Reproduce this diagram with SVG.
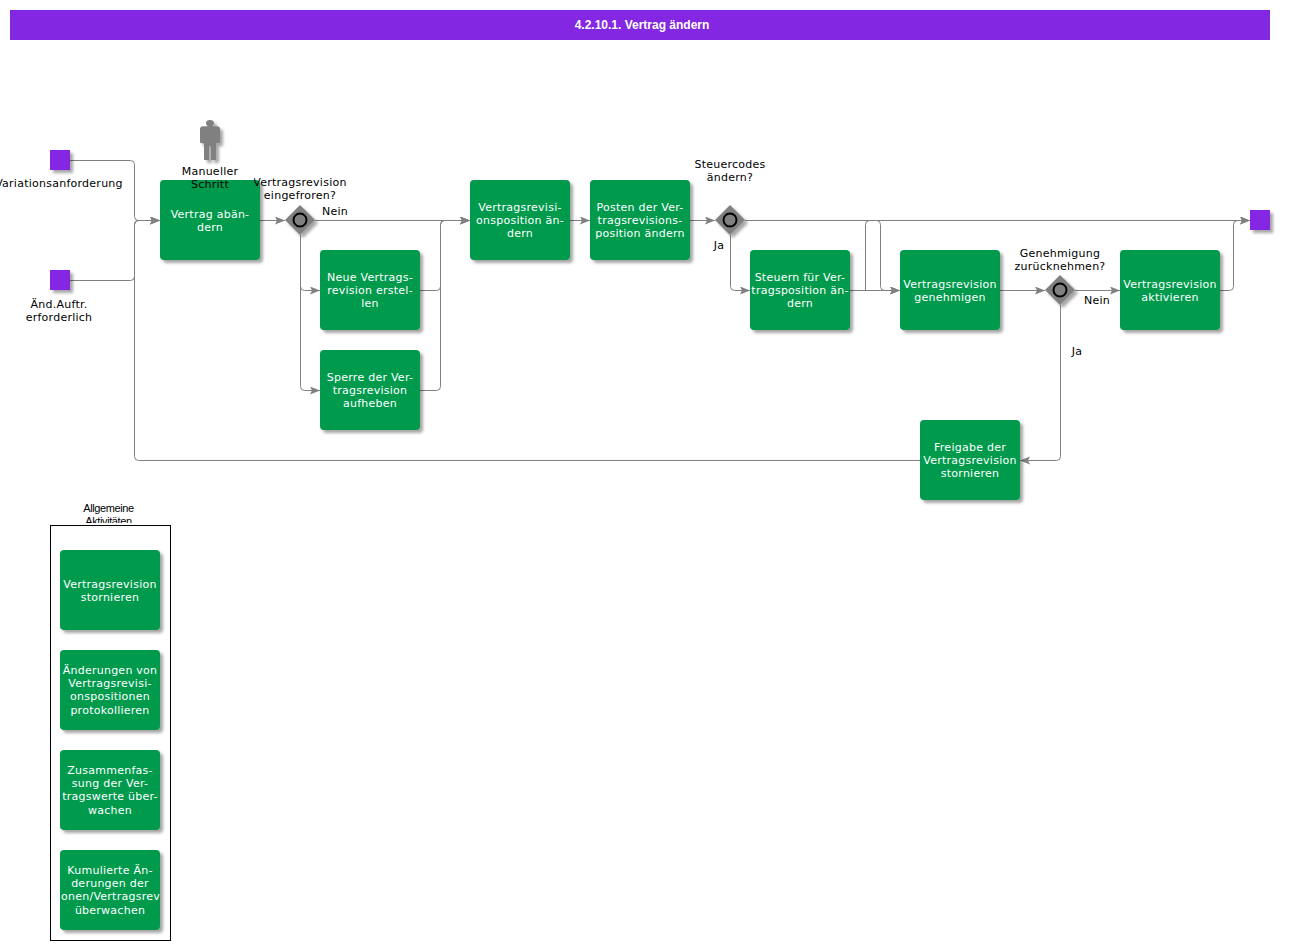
<svg xmlns="http://www.w3.org/2000/svg" width="1296" height="950" viewBox="0 0 1296 950">
<style>
text{font-family:"DejaVu Sans",Verdana,sans-serif;font-size:11px;text-anchor:middle;fill:#000;letter-spacing:.25px}
.w{fill:#fff}
.n rect{fill:#009a4d}
.s{fill:#8427e2}
.c{fill:none;stroke:#808080;stroke-width:1}
.g{fill:#808080}
.a{font-family:"Liberation Sans",Arial,sans-serif;letter-spacing:-.4px}
</style>
<defs>
<filter id="sh" x="-20%" y="-20%" width="150%" height="150%"><feDropShadow dx="3" dy="3" stdDeviation="1.6" flood-color="#000" flood-opacity=".35"/></filter>
<marker id="a" markerUnits="userSpaceOnUse" markerWidth="11" markerHeight="9" refX="10" refY="4" orient="auto"><path d="M0 0L10 4L0 8L2 4Z" fill="#808080"/></marker>
<clipPath id="c1"><rect x="254" y="170" width="100" height="40"/></clipPath>
<clipPath id="c2"><rect x="50" y="500" width="120" height="23"/></clipPath>
<clipPath id="c3"><rect x="60" y="850" width="100" height="80"/></clipPath>
</defs>
<g id="title"><rect x="10" y="10" width="1260" height="30" fill="#8427e2"/><text x="642" y="29" style="font-family:'Liberation Sans',Arial,sans-serif;font-size:12px;font-weight:bold;letter-spacing:0" class="w">4.2.10.1. Vertrag ändern</text></g>
<g id="connectors" class="c">
<path d="M70 160.500H130.500Q134.500 160.500 134.500 164.500V216.500Q134.500 220.500 138.500 220.500H160" marker-end="url(#a)"/>
<path d="M70 280.500H130.500Q134.500 280.500 134.500 276.500V224.500Q134.500 220.500 138.500 220.500H160" marker-end="url(#a)"/>
<path d="M920 460.500H138.500Q134.500 460.500 134.500 456.500V224.500Q134.500 220.500 138.500 220.500H160" marker-end="url(#a)"/>
<path d="M260 220.500H285" marker-end="url(#a)"/>
<path d="M315 220.500H470" marker-end="url(#a)"/>
<path d="M300.500 235V286.500Q300.500 290.500 304.500 290.500H320" marker-end="url(#a)"/>
<path d="M300.500 235V386.500Q300.500 390.500 304.500 390.500H320" marker-end="url(#a)"/>
<path d="M420 290.500H436.500Q440.500 290.500 440.500 286.500V224.500Q440.500 220.500 444.500 220.500H470" marker-end="url(#a)"/>
<path d="M420 390.500H436.500Q440.500 390.500 440.500 386.500V224.500Q440.500 220.500 444.500 220.500H470" marker-end="url(#a)"/>
<path d="M570 220.500H590" marker-end="url(#a)"/>
<path d="M690 220.500H715" marker-end="url(#a)"/>
<path d="M745 220.500H1250" marker-end="url(#a)"/>
<path d="M730.500 235V286.500Q730.500 290.500 734.500 290.500H750" marker-end="url(#a)"/>
<path d="M850 290.500H900" marker-end="url(#a)"/>
<path d="M865.500 290.500V224.500Q865.500 220.500 869.500 220.500H876.500Q880.500 220.500 880.500 224.500V286.500Q880.500 290.500 884.500 290.500H900" marker-end="url(#a)"/>
<path d="M1000 290.500H1045" marker-end="url(#a)"/>
<path d="M1075 290.500H1120" marker-end="url(#a)"/>
<path d="M1060.500 305V456.500Q1060.500 460.500 1056.500 460.500H1020" marker-end="url(#a)"/>
<path d="M1220 290.500H1229.500Q1233.500 290.500 1233.500 286.500V224.500Q1233.500 220.500 1237.500 220.500H1250" marker-end="url(#a)"/>
</g>
<g id="start1"><rect class="s" x="50" y="150" width="20" height="20" filter="url(#sh)"/><text x="59" y="187">Variationsanforderung</text></g>
<g id="start2"><rect class="s" x="50" y="270" width="20" height="20" filter="url(#sh)"/><text x="59" y="308">Änd.Auftr.</text><text x="59" y="321">erforderlich</text></g>
<g id="end1"><rect class="s" x="1250" y="210" width="20" height="20" filter="url(#sh)"/></g>
<g id="actor"><path class="g" filter="url(#sh)" d="M210 120c2.500 0 4 1.300 4 3s-1 2.700-2 3.300h5c2 0 3 1 3 3V142c0 .8-.5 1.200-1 1.200h-2.500L216 144v15c0 .6-.4 1-1 1h-4v-14h-2v14h-4c-.6 0-1-.4-1-1v-15l-.5-.8H201c-.5 0-1-.4-1-1.200V129.300c0-2 1-3 3-3h5c-1-.6-2-1.600-2-3.300s1.500-3 4-3z"/></g>
<g id="n1" class="n"><rect x="160" y="180" width="100" height="80" rx="4" filter="url(#sh)"/><text class="w" x="210" y="218">Vertrag abän-</text><text class="w" x="210" y="231">dern</text></g>
<g id="actorLabel"><text x="210" y="175">Manueller</text><text x="210" y="188">Schritt</text></g>
<g id="gw1"><path class="g" d="M300 205L315 220L300 235L285 220Z" filter="url(#sh)"/><circle cx="300" cy="220" r="6.500" fill="#808080" stroke="#000" stroke-width="2"/><g clip-path="url(#c1)"><text x="300" y="186">Vertragsrevision</text><text x="300" y="199">eingefroren?</text></g></g>
<g id="n2" class="n"><rect x="320" y="250" width="100" height="80" rx="4" filter="url(#sh)"/><text class="w" x="370" y="281">Neue Vertrags-</text><text class="w" x="370" y="294">revision erstel-</text><text class="w" x="370" y="307">len</text></g>
<g id="n3" class="n"><rect x="320" y="350" width="100" height="80" rx="4" filter="url(#sh)"/><text class="w" x="370" y="381">Sperre der Ver-</text><text class="w" x="370" y="394">tragsrevision</text><text class="w" x="370" y="407">aufheben</text></g>
<g id="n4" class="n"><rect x="470" y="180" width="100" height="80" rx="4" filter="url(#sh)"/><text class="w" x="520" y="211">Vertragsrevisi-</text><text class="w" x="520" y="224">onsposition än-</text><text class="w" x="520" y="237">dern</text></g>
<g id="n5" class="n"><rect x="590" y="180" width="100" height="80" rx="4" filter="url(#sh)"/><text class="w" x="640" y="211">Posten der Ver-</text><text class="w" x="640" y="224">tragsrevisions-</text><text class="w" x="640" y="237">position ändern</text></g>
<g id="gw2"><path class="g" d="M730 205L745 220L730 235L715 220Z" filter="url(#sh)"/><circle cx="730" cy="220" r="6.500" fill="#808080" stroke="#000" stroke-width="2"/><text x="730" y="168">Steuercodes</text><text x="730" y="181">ändern?</text></g>
<g id="n6" class="n"><rect x="750" y="250" width="100" height="80" rx="4" filter="url(#sh)"/><text class="w" x="800" y="281">Steuern für Ver-</text><text class="w" x="800" y="294">tragsposition än-</text><text class="w" x="800" y="307">dern</text></g>
<g id="n7" class="n"><rect x="900" y="250" width="100" height="80" rx="4" filter="url(#sh)"/><text class="w" x="950" y="288">Vertragsrevision</text><text class="w" x="950" y="301">genehmigen</text></g>
<g id="gw3"><path class="g" d="M1060 275L1075 290L1060 305L1045 290Z" filter="url(#sh)"/><circle cx="1060" cy="290" r="6.500" fill="#808080" stroke="#000" stroke-width="2"/><text x="1060" y="257">Genehmigung</text><text x="1060" y="270">zurücknehmen?</text></g>
<g id="n8" class="n"><rect x="1120" y="250" width="100" height="80" rx="4" filter="url(#sh)"/><text class="w" x="1170" y="288">Vertragsrevision</text><text class="w" x="1170" y="301">aktivieren</text></g>
<g id="n9" class="n"><rect x="920" y="420" width="100" height="80" rx="4" filter="url(#sh)"/><text class="w" x="970" y="451">Freigabe der</text><text class="w" x="970" y="464">Vertragsrevision</text><text class="w" x="970" y="477">stornieren</text></g>
<g id="edgeLabels"><text x="335" y="215">Nein</text><text x="719" y="249">Ja</text><text x="1097" y="304">Nein</text><text x="1077" y="355">Ja</text></g>
<g id="group"><rect x="50.500" y="525.500" width="120" height="415" fill="none" stroke="#000"/><g clip-path="url(#c2)"><text class="a" x="108.500" y="512">Allgemeine</text><text class="a" x="108.500" y="525">Aktivitäten</text></g></g>
<g id="n10" class="n"><rect x="60" y="550" width="100" height="80" rx="4" filter="url(#sh)"/><text class="w" x="110" y="588">Vertragsrevision</text><text class="w" x="110" y="601">stornieren</text></g>
<g id="n11" class="n"><rect x="60" y="650" width="100" height="80" rx="4" filter="url(#sh)"/><text class="w" x="110" y="674">Änderungen von</text><text class="w" x="110" y="687">Vertragsrevisi-</text><text class="w" x="110" y="700">onspositionen</text><text class="w" x="110" y="714">protokollieren</text></g>
<g id="n12" class="n"><rect x="60" y="750" width="100" height="80" rx="4" filter="url(#sh)"/><text class="w" x="110" y="774">Zusammenfas-</text><text class="w" x="110" y="787">sung der Ver-</text><text class="w" x="110" y="800">tragswerte über-</text><text class="w" x="110" y="814">wachen</text></g>
<g id="n13" class="n"><rect x="60" y="850" width="100" height="80" rx="4" filter="url(#sh)"/><text class="w" x="110" y="874">Kumulierte Än-</text><text class="w" x="110" y="887">derungen der</text><g clip-path="url(#c3)"><text class="w" x="61" y="900" style="text-anchor:start">onen/Vertragsrevi</text></g><text class="w" x="110" y="914">überwachen</text></g>
</svg>
